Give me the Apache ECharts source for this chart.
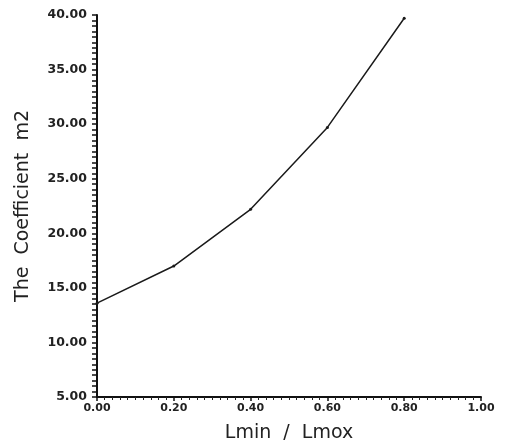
<!DOCTYPE html>
<html>
<head>
<meta charset="utf-8">
<script src="https://cdn.jsdelivr.net/npm/echarts@6/dist/echarts.min.js"></script>
<style>
html, body { margin: 0; padding: 0; background: #fff; }
#chart { width: 506px; height: 448px; }
</style>
</head>
<body>
<div id="chart"></div>
<script>
// ratio Lmin / Lmax
var ratio = [0.0, 0.2, 0.4, 0.6, 0.8]
// coefficient m2
var coefM2 = [13.6, 17.0, 22.2, 29.7, 39.7]

var chart = echarts.init(document.getElementById('chart'))

chart.setOption({
  animation: false,
  grid: {
    left: 97,
    right: 25,
    top: 15,
    bottom: 51
  },
  xAxis: {
    type: 'value',
    min: 0,
    max: 1,
    interval: 0.2,
    name: 'Lmin  /  Lmox',
    nameLocation: 'middle',
    nameGap: 27,
    nameTextStyle: { color: '#222', fontSize: 19, fontFamily: 'DejaVu Sans' },
    axisLine: { lineStyle: { color: '#111', width: 2 } },
    axisTick: { length: 4, lineStyle: { color: '#111', width: 1.5 } },
    minorTick: { show: true, splitNumber: 10, length: 3, lineStyle: { color: '#222' } },
    axisLabel: {
      color: '#222',
      fontSize: 11,
      fontWeight: 'bold',
      fontFamily: 'DejaVu Sans',
      margin: 6,
      formatter: function (v) { return v.toFixed(2) }
    },
    splitLine: { show: false }
  },
  yAxis: {
    type: 'value',
    min: 5,
    max: 40,
    interval: 5,
    name: 'The  Coefficient  m2',
    nameLocation: 'middle',
    nameGap: 64,
    nameTextStyle: { color: '#222', fontSize: 19, fontFamily: 'DejaVu Sans' },
    axisLine: { lineStyle: { color: '#111', width: 2 } },
    axisTick: { length: 5, lineStyle: { color: '#111', width: 1.5 } },
    minorTick: { show: true, splitNumber: 10, length: 5, lineStyle: { color: '#111', width: 1.5 } },
    axisLabel: {
      color: '#222',
      fontSize: 12.5,
      fontWeight: 'bold',
      fontFamily: 'DejaVu Sans',
      margin: 10,
      formatter: function (v) { return v.toFixed(2) }
    },
    splitLine: { show: false }
  },
  series: [{
    type: 'line',
    data: ratio.map(function (x, i) { return [x, coefM2[i]] }),
    smooth: false,
    symbol: 'circle',
    symbolSize: 3,
    lineStyle: { color: '#1a1a1a', width: 1.5 },
    itemStyle: { color: '#1a1a1a' }
  }]
})
</script>
</body>
</html>
